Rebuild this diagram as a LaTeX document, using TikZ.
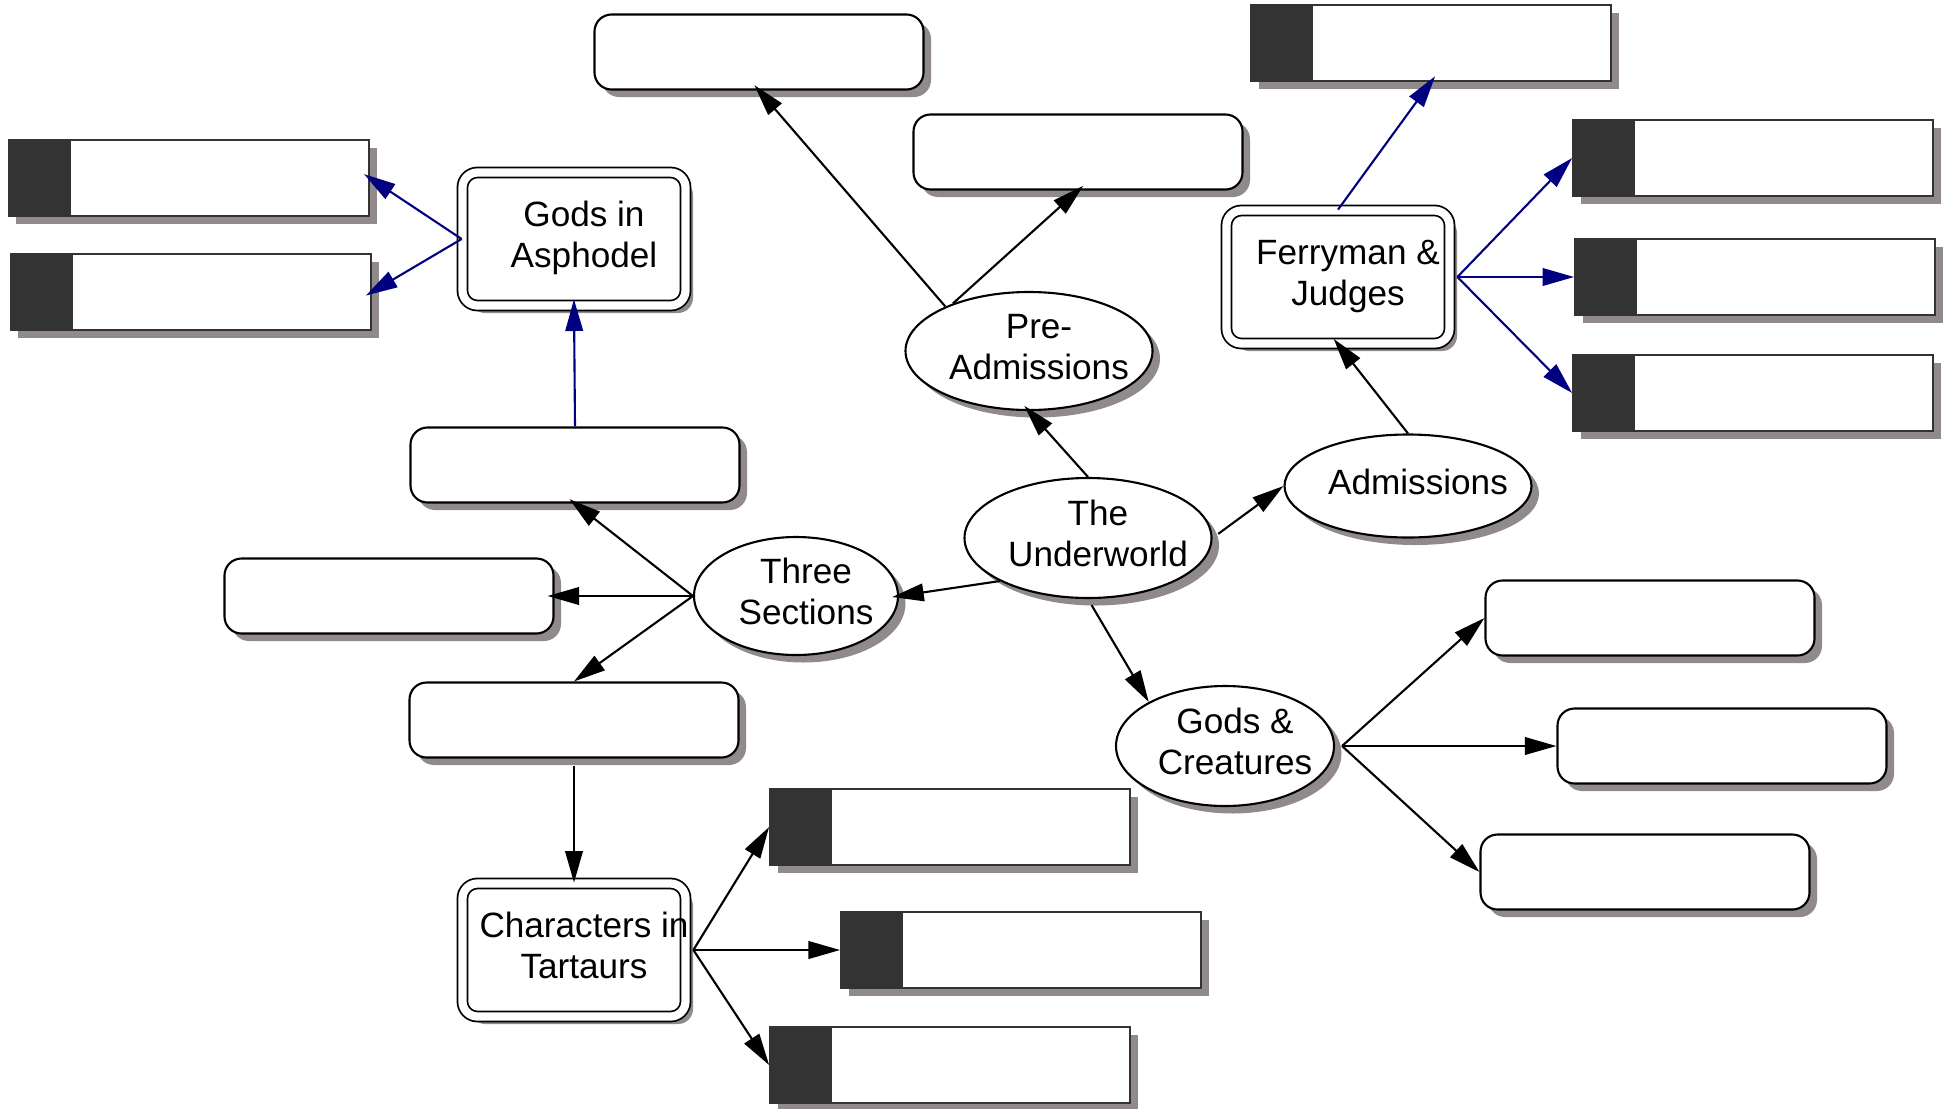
\documentclass[tikz,border=0pt]{standalone}
\usepackage{fontspec}
\setmainfont{Liberation Sans}
\usetikzlibrary{arrows.meta, shapes.geometric, shadows}
\definecolor{inkshade}{HTML}{918A8A}
\definecolor{inkdark}{HTML}{333333}
\definecolor{inknavy}{HTML}{000080}
\newcommand{\nudged}[1]{\hspace*{0.2cm}\begin{tabular}{@{}c@{}}#1\end{tabular}}

\begin{document}
\begin{tikzpicture}[
    font=\fontsize{10}{11.4}\selectfont,
    lifted/.style={drop shadow={shadow xshift=0.075cm, shadow yshift=-0.075cm,
      fill=inkshade, opacity=1}},
    topic/.style={ellipse, draw, line width=0.6pt, fill=white, lifted,
      inner xsep=-6pt, inner ysep=0pt},
    hub/.style={draw, double, double distance=2.35pt, line width=0.5pt,
      rounded corners=0.15cm, fill=white, lifted, inner xsep=-5pt, inner ysep=0pt,
      minimum width=2.23cm, minimum height=1.33cm},
    slot/.style={draw, line width=0.6pt, rounded corners=0.17cm, fill=white,
      lifted, minimum width=3.29cm, minimum height=0.75cm},
    tagbox/.style={draw=inkdark, line width=0.5pt, fill=white, lifted,
      minimum width=3.6cm, minimum height=0.76cm,
      path picture={\fill[inkdark] (path picture bounding box.south west)
        rectangle ([xshift=0.62cm]path picture bounding box.north west);}},
    link/.style={line width=0.6pt, -{Triangle[length=9pt, width=5pt]}},
    navylink/.style={link, inknavy},
    toshadow/.style={shorten >=-0.07cm},
    fromshadow/.style={shorten <=0.07cm}]
  \useasboundingbox (0,0) rectangle (19.54,-11.08);

  \node[topic, minimum width=2.47cm, minimum height=1.20cm] (uw) at (10.88,-5.38)
    {\nudged{The\\Underworld}};
  \node[topic, minimum width=2.47cm, minimum height=1.18cm] (pa) at (10.29,-3.51)
    {\nudged{Pre-\\Admissions}};
  \node[topic, minimum width=2.47cm, minimum height=1.03cm] (ad) at (14.08,-4.86)
    {\nudged{Admissions}};
  \node[topic, minimum width=2.04cm, minimum height=1.18cm] (ts) at (7.96,-5.96)
    {\nudged{Three\\Sections}};
  \node[topic, minimum width=2.18cm, minimum height=1.20cm] (gc) at (12.25,-7.46)
    {\nudged{Gods \&\\Creatures}};

  \node[hub] (ga) at (5.74,-2.39) {\nudged{Gods in\\Asphodel}};
  \node[hub] (fj) at (13.38,-2.77) {\nudged{Ferryman \&\\Judges}};
  \node[hub] (ct) at (5.74,-9.50) {\nudged{Characters in\\Tartaurs}};

  \node[slot] (r1) at (7.59,-0.52) {};
  \node[slot] (r2) at (10.78,-1.52) {};
  \node[slot] (r3) at (5.75,-4.65) {};
  \node[slot] (r4) at (3.89,-5.96) {};
  \node[slot] (r5) at (5.74,-7.20) {};
  \node[slot] (r6) at (16.50,-6.18) {};
  \node[slot] (r7) at (17.22,-7.46) {};
  \node[slot] (r8) at (16.45,-8.72) {};

  \node[tagbox] (d1) at (14.31,-0.43) {};
  \node[tagbox] (d2) at (17.53,-1.58) {};
  \node[tagbox] (d3) at (17.55,-2.77) {};
  \node[tagbox] (d4) at (17.53,-3.93) {};
  \node[tagbox] (d5) at (1.89,-1.78) {};
  \node[tagbox] (d6) at (1.91,-2.92) {};
  \node[tagbox] (d7) at (9.50,-8.27) {};
  \node[tagbox] (d8) at (10.21,-9.50) {};
  \node[tagbox] (d9) at (9.50,-10.65) {};

  \coordinate (fjout) at ([xshift=0.07cm]fj.east);
  \coordinate (ctout) at ([xshift=0.07cm]ct.east);
  \coordinate (gcout) at ([xshift=0.07cm]gc.east);

  \draw[link, toshadow] (uw.north) -- (pa.south);
  \draw[link, fromshadow] (uw.east) -- (ad.west);
  \draw[link, toshadow] (uw.206) -- (ts.east);
  \draw[link, fromshadow] (uw.south) -- (gc.150);
  \draw[link, toshadow] (pa.152) -- (r1.south);
  \draw[link, toshadow] (pa.148) -- (r2.south);
  \draw[link, toshadow] (ad.north) -- (fj.south);
  \draw[navylink, toshadow] (fj.north) -- (d1.south);
  \draw[navylink] (fjout) -- (d2.west);
  \draw[navylink] (fjout) -- (d3.west);
  \draw[navylink] (fjout) -- (d4.west);
  \draw[link, toshadow] (ts.west) -- (r3.south);
  \draw[link, toshadow] (ts.west) -- (r4.east);
  \draw[link] (ts.west) -- (r5.north);
  \draw[navylink, toshadow] (r3.north) -- (ga.south);
  \draw[navylink, toshadow] (ga.west) -- (d5.east);
  \draw[navylink, toshadow] (ga.west) -- (d6.east);
  \draw[link, fromshadow] (r5.south) -- (ct.north);
  \draw[link] (ctout) -- (d7.west);
  \draw[link] (ctout) -- (d8.west);
  \draw[link] (ctout) -- (d9.west);
  \draw[link] (gcout) -- (r6.west);
  \draw[link] (gcout) -- (r7.west);
  \draw[link] (gcout) -- (r8.west);
\end{tikzpicture}
\end{document}
